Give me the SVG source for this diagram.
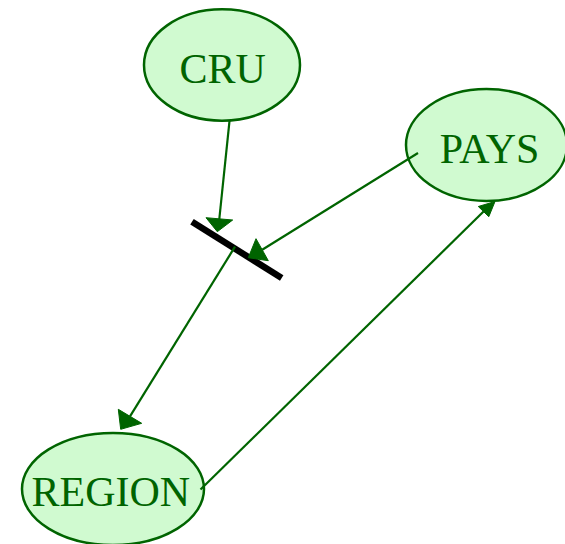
<svg xmlns="http://www.w3.org/2000/svg" width="565" height="544" viewBox="0 0 565 544">
  <style>
    .node ellipse { fill: #d0fad0; stroke: #006400; stroke-width: 2.5; }
    .node text { font-family: "Liberation Serif", "Times New Roman", serif; font-size: 42px; fill: #006400; text-anchor: middle; }
    .edge line { stroke: #006400; stroke-width: 2.2; }
    .edge polygon { fill: #006400; stroke: #006400; stroke-width: 1; }
  </style>
  <rect width="565" height="544" fill="#ffffff"/>

  <g id="CRU" class="node">
    <ellipse cx="222" cy="65" rx="78" ry="55.7"/>
    <text x="222.7" y="82.7">CRU</text>
  </g>

  <g id="PAYS" class="node">
    <ellipse cx="486.5" cy="145" rx="80.5" ry="56"/>
    <text x="489.5" y="162.7">PAYS</text>
  </g>

  <g id="REGION" class="node">
    <ellipse cx="113" cy="489" rx="91" ry="56"/>
    <text x="110.8" y="506">REGION</text>
  </g>

  <!-- junction bar -->
  <g id="junction">
    <line x1="192" y1="221.7" x2="281.7" y2="278" stroke="#000000" stroke-width="6.5"/>
  </g>

  <g id="edges" class="edge">
    <!-- CRU to junction -->
    <line x1="229.5" y1="121" x2="219.3" y2="219"/>
    <polygon points="206,217.7 232.7,220 217.3,231.7"/>
    <!-- PAYS to junction -->
    <line x1="418" y1="153" x2="262.2" y2="249.7"/>
    <polygon points="256,238.7 268.3,260.7 248.3,257.7"/>
    <!-- junction to REGION -->
    <line x1="235" y1="246.7" x2="130" y2="416.3"/>
    <polygon points="118.3,409.3 141.7,423.3 120.7,429.3"/>
    <!-- REGION to PAYS -->
    <line x1="200.5" y1="489.5" x2="483.8" y2="211.3"/>
    <polygon points="478.3,206.5 488.8,216.7 495,201.5"/>
  </g>
</svg>
